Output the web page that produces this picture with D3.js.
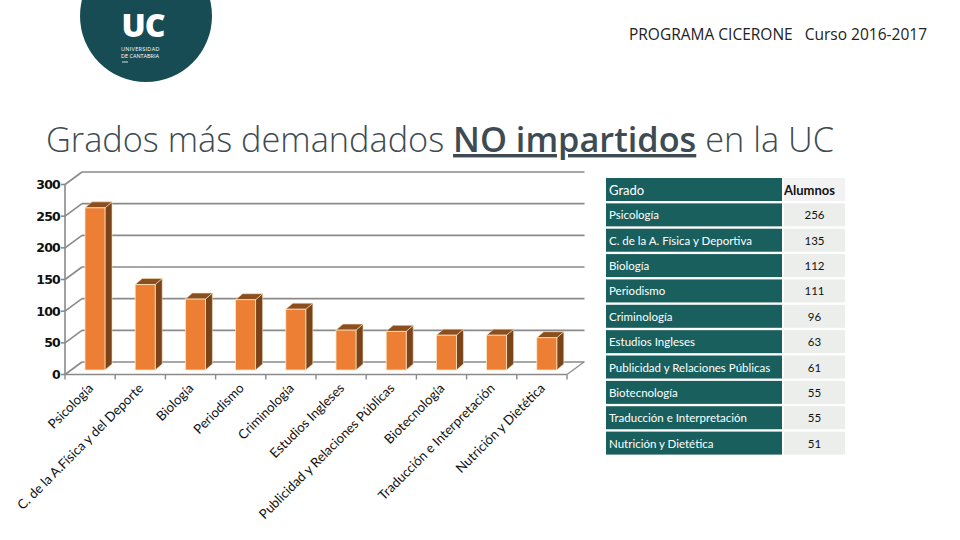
<!DOCTYPE html>
<html><head><meta charset="utf-8">
<script src="https://cdn.jsdelivr.net/npm/d3@7"></script>
<style>html,body{margin:0;padding:0;background:#fff;}svg{display:block;}</style>
</head><body>
<svg id="c" width="960" height="540"></svg>
<script>
// ---- data ----
const categories = ["Psicología","C. de la A.Física y del Deporte","Biología","Periodismo","Criminología","Estudios Ingleses","Publicidad y Relaciones Públicas","Biotecnología","Traducción e Interpretación","Nutrición y Dietética"];
const values = [256,135,112,111,96,63,61,55,55,51];
const tableNames = ["Psicología","C. de la A. Física y Deportiva","Biología","Periodismo","Criminología","Estudios Ingleses","Publicidad y Relaciones Públicas","Biotecnología","Traducción e Interpretación","Nutrición y Dietética"];
const yTicks = [0,50,100,150,200,250,300];
const tableHeader = ["Grado","Alumnos"];

const svg = d3.select("#c");

// ---- logo ----
const logo = svg.append("g");
logo.append("circle").attr("cx",146).attr("cy",16).attr("r",66).attr("fill","#184c55");
logo.append("text").attr("x",143).attr("y",37).attr("text-anchor","middle")
  .attr("font-family","Open Sans, sans-serif").attr("font-weight",800).attr("font-size",32)
  .attr("fill","#fff").attr("letter-spacing",-1).text("UC");
logo.append("text").attr("x",121).attr("y",51).attr("font-family","Open Sans, sans-serif")
  .attr("font-size",5.5).attr("fill","#fff").attr("letter-spacing",0.3).text("UNIVERSIDAD");
logo.append("text").attr("x",121).attr("y",58).attr("font-family","Open Sans, sans-serif")
  .attr("font-size",5.5).attr("fill","#fff").text("DE CANTABRIA");
logo.append("line").attr("x1",122).attr("x2",128).attr("y1",62).attr("y2",62).attr("stroke","#fff").attr("stroke-width",0.8);

// ---- header ----
svg.append("text").attr("x",927).attr("y",40).attr("text-anchor","end")
  .attr("font-family","Open Sans, sans-serif").attr("font-size",15.5).attr("fill","#222")
  .style("white-space","pre")
  .text("PROGRAMA CICERONE   Curso 2016-2017");

// ---- title ----
const title = svg.append("text").attr("x",46).attr("y",152)
  .attr("font-family","Open Sans, sans-serif").attr("font-size",34.3).attr("fill","#3e4b52")
  .style("white-space","pre");
title.append("tspan").attr("font-weight",300).text("Grados más demandados ");
title.append("tspan").attr("font-weight",600).attr("text-decoration","underline").text("NO impartidos");
title.append("tspan").attr("font-weight",300).text(" en la UC");

// ---- chart geometry ----
const x0 = 65, x1 = 567;           // front floor edge
const dx = 17, dy = -12.5;          // back-wall depth offset
const yFront = d3.scaleLinear().domain([0,300]).range([374.5,184.5]);
const yBack = v => yFront(v) + dy;
const yBar = d3.scaleLinear().domain([0,300]).range([370,180]);
const x = d3.scaleBand().domain(categories).range([x0,x1]).paddingInner(0).paddingOuter(0);

const grid = "#8a8a8a";
const g = svg.append("g");
// back-wall gridlines and side-wall diagonals
yTicks.forEach(v => {
  g.append("line").attr("x1",x0+dx).attr("x2",x1+dx+0.5).attr("y1",yBack(v)).attr("y2",yBack(v))
    .attr("stroke",grid).attr("stroke-width",1.6);
  g.append("line").attr("x1",x0).attr("x2",x0+dx).attr("y1",yFront(v)).attr("y2",yBack(v))
    .attr("stroke",grid).attr("stroke-width",1.6);
});
// floor front edge + right edge
g.append("line").attr("x1",x0).attr("x2",x1).attr("y1",yFront(0)).attr("y2",yFront(0)).attr("stroke",grid).attr("stroke-width",1.6);
g.append("line").attr("x1",x1).attr("x2",x1+dx).attr("y1",yFront(0)).attr("y2",yBack(0)).attr("stroke",grid).attr("stroke-width",1.2);

// bars (3D)
const bw = 20, bdx = 7, bdy = -6;
const bars = g.selectAll("g.bar").data(values).join("g").attr("class","bar");
bars.each(function(v,i){
  const sel = d3.select(this);
  const left = x(categories[i]) + 20;
  const top = yBar(v), bot = yBar(0);
  sel.append("path").attr("d",`M${left+bw},${bot}L${left+bw+bdx},${bot+bdy}L${left+bw+bdx},${top+bdy}L${left+bw},${top}Z`)
    .attr("fill","#7a4319").attr("stroke","#f6dfb7").attr("stroke-width",0.6);
  sel.append("path").attr("d",`M${left},${top}L${left+bdx},${top+bdy}L${left+bw+bdx},${top+bdy}L${left+bw},${top}Z`)
    .attr("fill","#8b4e1f").attr("stroke","#f6dfb7").attr("stroke-width",0.6);
  sel.append("rect").attr("x",left).attr("y",top).attr("width",bw).attr("height",bot-top)
    .attr("fill","#ec7f33").attr("stroke","#fbe6c4").attr("stroke-width",0.8);
});

// front y axis
g.append("line").attr("x1",x0).attr("x2",x0).attr("y1",yFront(300)).attr("y2",yFront(0)+0.5).attr("stroke",grid).attr("stroke-width",1.6);
yTicks.forEach(v => {
  g.append("line").attr("x1",x0-4).attr("x2",x0).attr("y1",yFront(v)).attr("y2",yFront(v)).attr("stroke",grid).attr("stroke-width",1.6);
  g.append("text").attr("x",x0-5).attr("y",yFront(v)+4.5).attr("text-anchor","end")
    .attr("font-family","DejaVu Sans, sans-serif").attr("font-weight","bold").attr("font-size",12.5)
    .attr("letter-spacing",-0.8).attr("fill","#111").text(v);
});
// x ticks
d3.range(categories.length+1).forEach(k => {
  const xx = x0 + k*x.step();
  g.append("line").attr("x1",xx).attr("x2",xx).attr("y1",yFront(0)).attr("y2",yFront(0)+5).attr("stroke",grid).attr("stroke-width",1.4);
});
// x labels rotated
categories.forEach((c,i) => {
  const cx = x(c) + x.bandwidth()/2 + 4;
  g.append("text").attr("transform",`translate(${cx},${389}) rotate(-45)`)
    .attr("text-anchor","end").attr("font-family","Lato, sans-serif").attr("font-size",13.2)
    .attr("fill","#111").text(c);
});

// ---- table ----
const tx0 = 606, tw1 = 176, tx2 = 784, tw2 = 61, ty0 = 178, pitch = 25.36, rh = 23;
const tg = svg.append("g");
tg.append("rect").attr("x",tx0).attr("y",ty0).attr("width",tw1).attr("height",rh).attr("fill","#195f5d");
tg.append("rect").attr("x",tx2).attr("y",ty0).attr("width",tw2).attr("height",rh).attr("fill","#f1f2f1");
tg.append("text").attr("x",tx0+3).attr("y",ty0+17).attr("font-family","Lato, sans-serif").attr("font-size",13)
  .attr("fill","#fff").text(tableHeader[0]);
tg.append("text").attr("x",tx2).attr("y",ty0+17).attr("font-family","Lato, sans-serif").attr("font-size",13).attr("font-weight","bold")
  .attr("fill","#111").text(tableHeader[1]);
tableNames.forEach((n,i) => {
  const yy = ty0 + pitch*(i+1);
  tg.append("rect").attr("x",tx0).attr("y",yy).attr("width",tw1).attr("height",rh).attr("fill","#195f5d");
  tg.append("rect").attr("x",tx2).attr("y",yy).attr("width",tw2).attr("height",rh).attr("fill","#eceeeb");
  tg.append("text").attr("x",tx0+3).attr("y",yy+16).attr("font-family","Lato, sans-serif").attr("font-size",11.5)
    .attr("fill","#fff").text(n);
  tg.append("text").attr("x",tx2+tw2/2).attr("y",yy+16).attr("text-anchor","middle").attr("font-family","Lato, sans-serif").attr("font-size",11.5)
    .attr("fill","#111").text(values[i]);
});
</script>
</body></html>
